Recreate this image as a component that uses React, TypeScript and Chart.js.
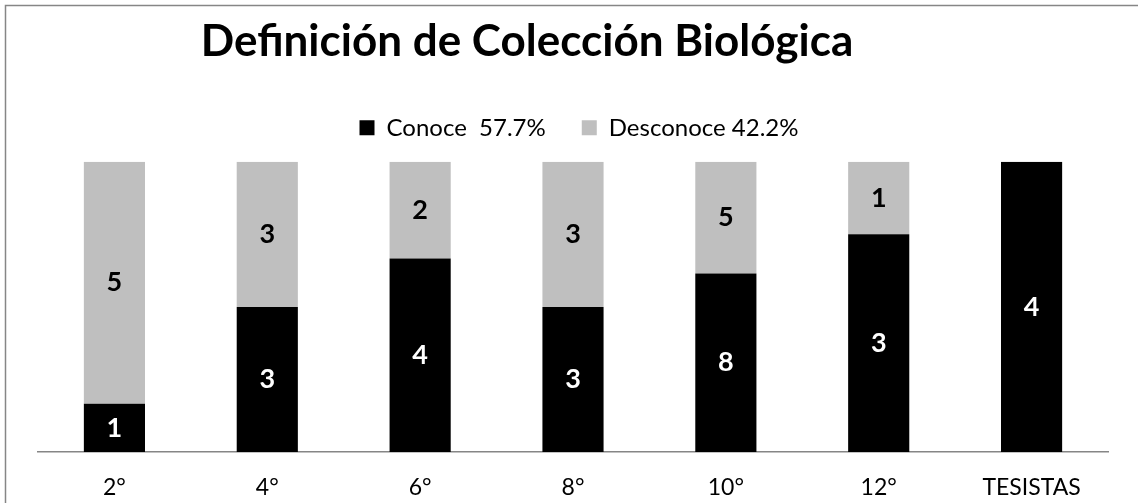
import React, { useEffect, useRef } from "react";
import { Chart, registerables } from "chart.js";

Chart.register(...registerables);

const categories = ["2°", "4°", "6°", "8°", "10°", "12°", "TESISTAS"];
const conoce = [1, 3, 4, 3, 8, 3, 4];
const desconoce = [5, 3, 2, 3, 5, 1, 0];
const seriesLabels = ["Conoce  57.7%", "Desconoce 42.2%"];
const titleText = "Definición de Colección Biológica";

const totals = categories.map((_, i) => conoce[i] + desconoce[i]);
const conocePct = conoce.map((v, i) => (totals[i] ? (v / totals[i]) * 100 : 0));
const desconocePct = desconoce.map((v, i) => (totals[i] ? (v / totals[i]) * 100 : 0));
const rawCounts = [conoce, desconoce];

const FONT = "Lato, 'Open Sans', sans-serif";

export default function App() {
  const ref = useRef<HTMLCanvasElement | null>(null);

  useEffect(() => {
    if (!ref.current) return;

    const framePlugin = {
      id: "frame",
      beforeInit(chart: any) {
        const legend = chart.legend;
        if (legend) {
          const orig = legend.fit.bind(legend);
          legend.fit = function () {
            orig();
            this.height += 12;
          };
        }
      },
      afterLayout(chart: any) {
        const t = chart.titleBlock;
        if (t) {
          t.left -= 46;
          t.right -= 46;
        }
        const l = chart.legend;
        if (l) {
          l.left += 6;
          l.right += 6;
          if (l.legendHitBoxes) {
            l.legendHitBoxes.forEach((h: any) => {
              h.left += 6;
            });
          }
        }
      },
      beforeDraw(chart: any) {
        const ctx = chart.ctx;
        ctx.save();
        ctx.fillStyle = "#ffffff";
        ctx.fillRect(0, 0, chart.width, chart.height);
        ctx.strokeStyle = "#868686";
        ctx.lineWidth = 1.5;
        ctx.strokeRect(5.5, 5.5, chart.width + 50, chart.height + 50);
        ctx.restore();
      },
    };

    const labelPlugin = {
      id: "countLabels",
      afterDatasetsDraw(chart: any) {
        const ctx = chart.ctx;
        ctx.save();
        ctx.font = `bold 27px ${FONT}`;
        ctx.textAlign = "center";
        ctx.textBaseline = "middle";
        chart.data.datasets.forEach((ds: any, di: number) => {
          const meta = chart.getDatasetMeta(di);
          meta.data.forEach((el: any, i: number) => {
            const v = rawCounts[di][i];
            if (!v) return;
            const y = (el.y + el.base) / 2;
            ctx.fillStyle = di === 0 ? "#ffffff" : "#000000";
            ctx.fillText(String(v), el.x, y);
          });
        });
        ctx.restore();
      },
    };

    const chart = new Chart(ref.current, {
      type: "bar",
      data: {
        labels: categories,
        datasets: [
          {
            label: seriesLabels[0],
            data: conocePct,
            backgroundColor: "#000000",
            borderWidth: 0,
          },
          {
            label: seriesLabels[1],
            data: desconocePct,
            backgroundColor: "#BFBFBF",
            borderWidth: 0,
          },
        ],
      },
      options: {
        animation: false,
        responsive: false,
        maintainAspectRatio: false,
        datasets: {
          bar: { categoryPercentage: 0.4, barPercentage: 1.0 },
        },
        layout: { padding: { left: 38, right: 30, top: 0, bottom: 0 } },
        plugins: {
          title: {
            display: true,
            text: titleText,
            color: "#000000",
            font: { family: FONT, size: 44, weight: "bold" },
            padding: { top: 15, bottom: 12 },
          },
          legend: {
            display: true,
            position: "top",
            labels: {
              color: "#000000",
              font: { family: FONT, size: 24 },
              boxWidth: 15,
              boxHeight: 15,
              padding: 36,
            },
          },
          tooltip: { enabled: false },
        },
        scales: {
          x: {
            stacked: true,
            grid: { display: false, drawTicks: false },
            border: { display: true, color: "#868686", width: 1.5 },
            ticks: {
              color: "#000000",
              font: { family: FONT, size: 23 },
              padding: 22,
              maxRotation: 0,
              autoSkip: false,
            },
            afterFit(scale: any) {
              scale.height = 51;
            },
          },
          y: {
            stacked: true,
            display: false,
            min: 0,
            max: 100,
          },
        },
      },
      plugins: [framePlugin, labelPlugin],
    });

    return () => chart.destroy();
  }, []);

  return (
    <div style={{ position: "fixed", left: 0, top: 0, width: 1138, height: 503 }}>
      <canvas ref={ref} width={1138} height={503} style={{ display: "block" }} />
    </div>
  );
}
